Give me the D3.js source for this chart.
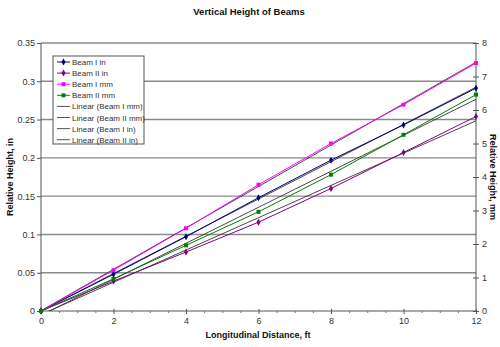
<!DOCTYPE html>
<html><head><meta charset="utf-8">
<script src="https://cdn.jsdelivr.net/npm/d3@7"></script>
<style>body{margin:0;background:#fff}svg{display:block}text{font-family:"Liberation Sans",Arial,sans-serif}</style>
</head><body><svg id="c" width="500" height="347"></svg>
<script>
const distances = [0, 2, 4, 6, 8, 10, 12];
const beamIin  = [0, 0.048, 0.097, 0.148, 0.197, 0.243, 0.291];
const beamIIin = [0, 0.039, 0.077, 0.116, 0.160, 0.207, 0.254];
const beamImm  = [0, 1.22, 2.47, 3.77, 5.00, 6.16, 7.40];
const beamIImm = [0, 0.96, 1.96, 2.96, 4.07, 5.26, 6.46];
const leftTicks = [0, 0.05, 0.1, 0.15, 0.2, 0.25, 0.3, 0.35];
const rightTicks = [0, 1, 2, 3, 4, 5, 6, 7, 8];
const xTicks = [0, 2, 4, 6, 8, 10, 12];
const seriesNames = ["Beam I in", "Beam II in", "Beam I mm", "Beam II mm"];
const trendNames = ["Linear (Beam I mm)", "Linear (Beam II mm)", "Linear (Beam I in)", "Linear (Beam II in)"];

const svg = d3.select("#c");
const L = 41, R = 476, T = 43, B = 311;
const x = d3.scaleLinear().domain([0, 12]).range([L, R]);
const yL = d3.scaleLinear().domain([0, 0.35]).range([B, T]);
const yR = d3.scaleLinear().domain([0, 8]).range([B, T]);

// gridlines
svg.append("g").selectAll("line").data(leftTicks.slice(1)).join("line")
  .attr("x1", L).attr("x2", R).attr("y1", d => yL(d)).attr("y2", d => yL(d))
  .attr("stroke", "#8a8a8a").attr("stroke-width", 1.4);

// axes
const fs = "9px";
const gl = svg.append("g").attr("transform", `translate(${L},0)`)
  .call(d3.axisLeft(yL).tickValues(leftTicks).tickSize(4).tickFormat(d => d3.format("")(+d.toFixed(2))));
const gr = svg.append("g").attr("transform", `translate(${R},0)`)
  .call(d3.axisRight(yR).tickValues(rightTicks).tickSize(3).tickFormat(d3.format("d")));
const gx = svg.append("g").attr("transform", `translate(0,${B})`)
  .call(d3.axisBottom(x).tickValues(xTicks).tickSize(3).tickFormat(d3.format("d")));
svg.append("g").attr("transform", `translate(0,${B})`)
  .call(d3.axisBottom(x).tickValues(d3.range(0, 12.01, 0.5).filter(v => v % 2 !== 0)).tickSize(2).tickFormat(""))
  .call(g => g.select(".domain").remove())
  .call(g => g.selectAll(".tick line").attr("stroke", "#777"));
gr.selectAll(".tick line").attr("x1", -3);
gx.selectAll(".tick line").attr("y1", -2);
[gl, gr, gx].forEach(g => {
  g.select(".domain").attr("stroke", "#555").attr("stroke-width", 1);
  g.selectAll(".tick line").attr("stroke", "#555");
  g.selectAll("text").attr("font-size", fs).attr("fill", "#333").attr("font-family", "Liberation Sans, Arial, sans-serif");
});
gl.select(".domain").attr("d", `M0,${B}V${T}`);
gr.select(".domain").attr("d", `M0,${B}V${T}`);
gx.select(".domain").attr("d", `M${L},0H${R}`);
gl.selectAll("text").attr("x", -6);
gr.selectAll("text").attr("x", 6);
gx.selectAll("text").attr("y", 7);

// trendlines (least squares)
function fit(xs, ys) {
  const mx = d3.mean(xs), my = d3.mean(ys);
  const sxy = d3.sum(xs, (v, i) => (v - mx) * (ys[i] - my));
  const sxx = d3.sum(xs, v => (v - mx) ** 2);
  const m = sxy / sxx; return { m, b: my - m * mx };
}
svg.append("clipPath").attr("id", "clip").append("rect").attr("x", L).attr("y", T).attr("width", R - L).attr("height", B - T);
const trends = [[beamImm, yR], [beamIImm, yR], [beamIin, yL], [beamIIin, yL]];
const tg = svg.append("g").attr("clip-path", "url(#clip)");
trends.forEach(([ys, sc]) => {
  const f = fit(distances, ys);
  tg.append("line").attr("x1", x(0)).attr("y1", sc(f.b)).attr("x2", x(12)).attr("y2", sc(f.b + 12 * f.m))
    .attr("stroke", "#333").attr("stroke-width", 0.9);
});

// series
const series = [
  { vals: beamIin, sc: yL, color: "#000080", shape: "diamond" },
  { vals: beamIIin, sc: yL, color: "#800080", shape: "diamond" },
  { vals: beamImm, sc: yR, color: "#ff00ff", shape: "square" },
  { vals: beamIImm, sc: yR, color: "#008000", shape: "square" }
];
const sym = s => d3.symbol().type(s === "square" ? d3.symbolSquare : d3.symbolDiamond).size(s === "square" ? 16 : 14);
series.forEach(s => {
  const line = d3.line().x((d, i) => x(distances[i])).y(d => s.sc(d));
  svg.append("path").attr("d", line(s.vals)).attr("fill", "none").attr("stroke", s.color).attr("stroke-width", 1);
  svg.append("g").selectAll("path").data(s.vals).join("path")
    .attr("transform", (d, i) => `translate(${x(distances[i])},${s.sc(d)})`)
    .attr("d", sym(s.shape)()).attr("fill", s.color);
});

// legend
const lfs = "8px";
const lg = svg.append("g");
lg.append("rect").attr("x", 53).attr("y", 56).attr("width", 91).attr("height", 88)
  .attr("fill", "#fff").attr("stroke", "#555").attr("stroke-width", 1);
const rowY = i => 62 + i * 11.1;
series.forEach((s, i) => {
  lg.append("line").attr("x1", 57).attr("x2", 70).attr("y1", rowY(i)).attr("y2", rowY(i)).attr("stroke", s.color);
  lg.append("path").attr("transform", `translate(63.5,${rowY(i)})`).attr("d", sym(s.shape)()).attr("fill", s.color);
  lg.append("text").attr("x", 72).attr("y", rowY(i) + 3).attr("font-size", lfs).attr("fill", "#333").text(seriesNames[i]);
});
trendNames.forEach((n, j) => {
  const i = j + 4;
  lg.append("line").attr("x1", 57).attr("x2", 70).attr("y1", rowY(i)).attr("y2", rowY(i)).attr("stroke", "#555");
  lg.append("text").attr("x", 72).attr("y", rowY(i) + 3).attr("font-size", lfs).attr("fill", "#333").text(n);
});

// titles
svg.append("text").attr("x", 249).attr("y", 15).attr("text-anchor", "middle")
  .attr("font-size", "9.5px").attr("font-weight", "bold").attr("fill", "#111").text("Vertical Height of Beams");
svg.append("text").attr("x", 258).attr("y", 338).attr("text-anchor", "middle")
  .attr("font-size", "9px").attr("font-weight", "bold").attr("fill", "#111").text("Longitudinal Distance, ft");
svg.append("text").attr("transform", `translate(13,177) rotate(-90)`).attr("text-anchor", "middle")
  .attr("font-size", "9px").attr("font-weight", "bold").attr("fill", "#111").text("Relative Height, in");
svg.append("text").attr("transform", `translate(490,177) rotate(90)`).attr("text-anchor", "middle")
  .attr("font-size", "9px").attr("font-weight", "bold").attr("fill", "#111").text("Relative Height, mm");
</script></body></html>
